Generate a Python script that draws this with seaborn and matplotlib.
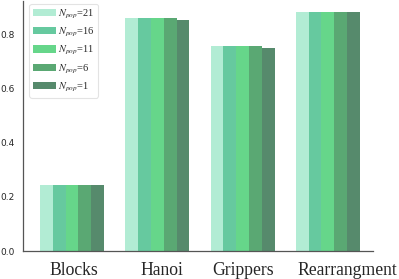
import matplotlib
matplotlib.use('Agg')
import matplotlib.pyplot as plt
import matplotlib.transforms as mtransforms
import seaborn as sns
import pandas as pd

# data
tasks = ['Blocks', 'Hanoi', 'Grippers', 'Rearrangment']
npop_labels = ['$N_{pop}$=21', '$N_{pop}$=16', '$N_{pop}$=11', '$N_{pop}$=6', '$N_{pop}$=1']
npop21 = [0.245, 0.861, 0.757, 0.883]
npop16 = [0.245, 0.861, 0.757, 0.883]
npop11 = [0.245, 0.861, 0.757, 0.883]
npop6 = [0.245, 0.861, 0.757, 0.883]
npop1 = [0.245, 0.853, 0.748, 0.883]
bar_colors = ['#b2ecd4', '#66c99f', '#66d68a', '#5aa873', '#568a6c']

# horizontal nudge of tick labels in the original (pixels)
label_shift = [1.5, 4.5, 0.5, 19]


def main():
    series = [npop21, npop16, npop11, npop6, npop1]
    rows = []
    for label, vals in zip(npop_labels, series):
        for t, v in zip(tasks, vals):
            rows.append({'task': t, 'npop': label, 'success': v})
    df = pd.DataFrame(rows)

    sns.set_style('white')
    plt.rcParams['mathtext.fontset'] = 'stix'

    fig = plt.figure(figsize=(3.99, 2.79), dpi=100)
    ax = fig.add_axes([0.058, 0.100, 0.877, 0.898])

    sns.barplot(data=df, x='task', y='success', hue='npop',
                order=tasks, hue_order=npop_labels,
                palette=bar_colors, width=0.75, linewidth=0,
                saturation=1, ax=ax)

    sns.despine(ax=ax)
    for s in ['left', 'bottom']:
        ax.spines[s].set_color('#555555')
        ax.spines[s].set_linewidth(0.9)

    ax.set_xlabel('')
    ax.set_ylabel('')
    ax.set_xlim(-0.574, 3.53)
    ax.set_ylim(0, 0.925)
    ax.set_yticks([0.0, 0.2, 0.4, 0.6, 0.8])
    ax.tick_params(axis='y', labelsize=6.5, length=2.5, width=0.6, color='#555555')
    ax.tick_params(axis='x', length=2, width=0.6, color='#555555', pad=6)
    for lab, dx in zip(ax.get_xticklabels(), label_shift):
        lab.set_fontfamily('Liberation Serif')
        lab.set_fontsize(12.7)
        lab.set_transform(lab.get_transform() +
                          mtransforms.ScaledTranslation(dx / 100, 0, fig.dpi_scale_trans))

    leg = ax.legend(loc='upper left', bbox_to_anchor=(0.012, 0.995),
                    prop={'family': 'Liberation Serif', 'size': 7.5},
                    handlelength=2.2, handleheight=0.7, labelspacing=0.5,
                    handletextpad=0.2, borderpad=0.35, borderaxespad=0.2,
                    frameon=True)
    leg.get_frame().set_edgecolor('#dddddd')
    leg.get_frame().set_linewidth(0.8)

    fig.savefig('out.png', dpi=100)


if __name__ == '__main__':
    main()
